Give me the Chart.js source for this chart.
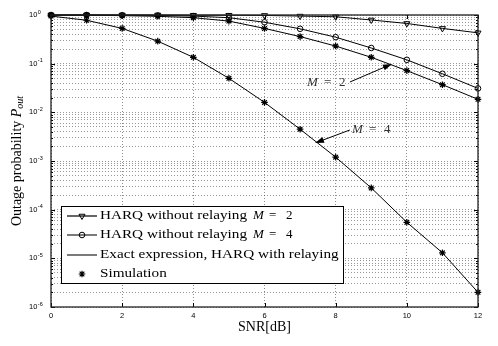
<!DOCTYPE html>
<html>
<head>
<meta charset="utf-8">
<script src="https://cdn.jsdelivr.net/npm/chart.js@4.4.1/dist/chart.umd.min.js"></script>
<style>
  body { margin: 0; background: #fff; }
  #wrap { width: 498px; height: 346px; }
</style>
</head>
<body>
<div id="wrap"><canvas id="outageChart" width="498" height="346"></canvas></div>
<script>
// SNR in dB
const snr = [0, 1, 2, 3, 4, 5, 6, 7, 8, 9, 10, 11, 12];

// HARQ without relaying
const noRelayM2 = [1.0, 1.0, 1.0, 1.0, 0.99, 0.99, 0.98, 0.95, 0.92, 0.79, 0.67, 0.53, 0.43];
const noRelayM4 = [1.0, 1.0, 0.99, 0.98, 0.95, 0.88, 0.71, 0.52, 0.35, 0.21, 0.12, 0.062, 0.031];

// exact expression, HARQ with relaying
const relayM2 = [0.99, 0.99, 0.97, 0.94, 0.88, 0.75, 0.53, 0.36, 0.23, 0.135, 0.072, 0.037, 0.0185];
const relayM4 = [0.95, 0.78, 0.53, 0.29, 0.135, 0.05, 0.016, 0.0045, 0.0012, 0.00028, 5.5e-5, 1.3e-5, 2.0e-6];

// simulation points
const simM2 = [0.99, 0.99, 0.97, 0.94, 0.88, 0.75, 0.53, 0.36, 0.23, 0.135, 0.072, 0.037, 0.0185];
const simM4 = [0.95, 0.78, 0.53, 0.29, 0.135, 0.05, 0.016, 0.0045, 0.0012, 0.00028, 5.5e-5, 1.3e-5, 2.0e-6];

// axis ticks
const xTicks = [0, 2, 4, 6, 8, 10, 12];
const yDecades = [-6, -5, -4, -3, -2, -1, 0];

const legendLabels = [
    ['HARQ without relaying ', 'M', '2'],
    ['HARQ without relaying ', 'M', '4'],
    ['Exact expression, HARQ with relaying'],
    ['Simulation']
];

const pts = arr => snr.map((x, i) => ({ x: x, y: arr[i] }));

const serif = '"Liberation Serif", "DejaVu Serif", serif';
const sans = '"Liberation Sans", Arial, sans-serif';

// minor + major log ticks
const yTickValues = [];
yDecades.forEach(d => {
    if (d === 0) { yTickValues.push(1); return; }
    for (let k = 1; k <= 9; k++) yTickValues.push(+(k * Math.pow(10, d)).toPrecision(3));
});

function stretchText(ctx, str, x, y, sx) {
    ctx.save();
    ctx.translate(x, y);
    ctx.scale(sx, 1);
    ctx.fillText(str, 0, 0);
    ctx.restore();
    return ctx.measureText(str).width * sx;
}

function arrow(ctx, x1, y1, x2, y2) {
    const a = Math.atan2(y2 - y1, x2 - x1);
    ctx.beginPath();
    ctx.moveTo(x1, y1);
    ctx.lineTo(x2 - 5 * Math.cos(a), y2 - 5 * Math.sin(a));
    ctx.stroke();
    ctx.beginPath();
    ctx.moveTo(x2, y2);
    ctx.lineTo(x2 - 9 * Math.cos(a) + 3 * Math.sin(a), y2 - 9 * Math.sin(a) - 3 * Math.cos(a));
    ctx.lineTo(x2 - 9 * Math.cos(a) - 3 * Math.sin(a), y2 - 9 * Math.sin(a) + 3 * Math.cos(a));
    ctx.closePath();
    ctx.fill();
}

const decorations = {
    id: 'decorations',
    afterDraw(chart) {
        const ctx = chart.ctx;
        const area = chart.chartArea;
        const xs = chart.scales.x, ys = chart.scales.y;
        ctx.save();

        // tick marks inside box
        ctx.strokeStyle = '#000';
        ctx.lineWidth = 1;
        ctx.beginPath();
        yTickValues.forEach(v => {
            const py = Math.round(ys.getPixelForValue(v)) + 0.5;
            const len = Number.isInteger(Math.log10(v)) ? 4 : 2;
            ctx.moveTo(area.left, py); ctx.lineTo(area.left + len, py);
            ctx.moveTo(area.right, py); ctx.lineTo(area.right - len, py);
        });
        xTicks.forEach(v => {
            const px = Math.round(xs.getPixelForValue(v)) + 0.5;
            ctx.moveTo(px, area.bottom); ctx.lineTo(px, area.bottom - 4);
            ctx.moveTo(px, area.top); ctx.lineTo(px, area.top + 4);
        });
        ctx.stroke();

        // axes box
        ctx.strokeStyle = '#222';
        ctx.lineWidth = 1.3;
        ctx.strokeRect(area.left, area.top, area.right - area.left, area.bottom - area.top);

        // y tick labels 10^n
        ctx.fillStyle = '#000';
        ctx.textBaseline = 'middle';
        ctx.textAlign = 'left';
        yDecades.forEach(d => {
            const py = ys.getPixelForValue(Math.pow(10, d));
            ctx.font = '7.5px ' + sans;
            ctx.fillText('10', 29, py);
            const w = ctx.measureText('10').width;
            ctx.font = '5.5px ' + sans;
            ctx.fillText(d === 0 ? '0' : '-' + Math.abs(d), 29 + w + 0.5, py - 3);
        });

        // x title
        ctx.font = '14px ' + serif;
        ctx.textAlign = 'center';
        ctx.fillText('SNR[dB]', (area.left + area.right) / 2, 327);

        // y title
        ctx.save();
        ctx.translate(17, (area.top + area.bottom) / 2);
        ctx.rotate(-Math.PI / 2);
        ctx.textAlign = 'left';
        ctx.font = '14px ' + serif;
        const t1 = 'Outage probability ';
        const w1 = ctx.measureText(t1).width;
        ctx.font = 'italic 14px ' + serif;
        const w2 = ctx.measureText('P').width;
        ctx.font = 'italic 10px ' + serif;
        const w3 = ctx.measureText('out').width;
        let x0 = -(w1 + w2 + w3) / 2;
        ctx.font = '14px ' + serif;
        ctx.fillText(t1, x0, 0);
        ctx.font = 'italic 14px ' + serif;
        ctx.fillText('P', x0 + w1, 0);
        ctx.font = 'italic 10px ' + serif;
        ctx.fillText('out', x0 + w1 + w2, 3);
        ctx.restore();

        // annotations M = 2, M = 4
        ctx.fillStyle = '#000';
        ctx.strokeStyle = '#000';
        ctx.lineWidth = 1;
        arrow(ctx, xs.getPixelForValue(8.4), ys.getPixelForValue(0.042),
                   xs.getPixelForValue(9.58), ys.getPixelForValue(0.0985));
        arrow(ctx, xs.getPixelForValue(8.4), ys.getPixelForValue(0.00434),
                   xs.getPixelForValue(7.42), ys.getPixelForValue(0.00234));
        ctx.fillStyle = '#333';
        ctx.textAlign = 'left';
        const mathLabel = (x, y, n) => {
            ctx.font = 'italic 13px ' + serif;
            ctx.fillText('M', x, y);
            ctx.font = '13px ' + serif;
            ctx.fillText('=', x + 17, y);
            ctx.fillText(n, x + 32, y);
        };
        mathLabel(xs.getPixelForValue(8.4) - 43, ys.getPixelForValue(0.040), '2');
        mathLabel(xs.getPixelForValue(8.46), ys.getPixelForValue(0.00434), '4');

        // legend
        const lx = 61, ly = 206, lw = 282, lh = 77;
        ctx.fillStyle = '#fff';
        ctx.fillRect(lx, ly, lw, lh);
        ctx.strokeStyle = '#000';
        ctx.lineWidth = 1;
        ctx.strokeRect(lx + 0.5, ly + 0.5, lw, lh);
        const rows = [216, 235, 255, 274];
        const markers = [
            { pointStyle: 'triangle', rotation: 180, radius: 3.5, borderWidth: 1 },
            { pointStyle: 'circle', rotation: 0, radius: 2.8, borderWidth: 1 },
            null,
            { pointStyle: 'star', rotation: 0, radius: 3.3, borderWidth: 1.2 }
        ];
        rows.forEach((ry, i) => {
            ctx.strokeStyle = '#000';
            ctx.fillStyle = 'rgba(0,0,0,0)';
            if (i < 3) {
                ctx.lineWidth = i === 0 ? 1.8 : 1.2;
                ctx.strokeStyle = i === 0 ? '#555' : '#222';
                ctx.beginPath();
                ctx.moveTo(67, ry); ctx.lineTo(97, ry);
                ctx.stroke();
            }
            if (markers[i]) {
                ctx.strokeStyle = '#000';
                ctx.lineWidth = markers[i].borderWidth;
                Chart.helpers.drawPoint(ctx, markers[i], 82, ry);
            }
            ctx.fillStyle = '#000';
            ctx.textBaseline = 'middle';
            ctx.font = '13px ' + serif;
            const lab = legendLabels[i];
            stretchText(ctx, lab[0], 100, ry, 1.17);
            if (lab.length > 1) {
                ctx.font = 'italic 13px ' + serif;
                ctx.fillText(lab[1], 253, ry);
                ctx.font = '13px ' + serif;
                ctx.fillText('=', 269, ry);
                ctx.fillText(lab[2], 286, ry);
            }
        });
        ctx.restore();
    }
};

const hollow = 'rgba(255,255,255,0)';

new Chart(document.getElementById('outageChart'), {
    type: 'line',
    data: {
        datasets: [
            {
                data: pts(noRelayM2), borderColor: '#000', borderWidth: 1,
                pointStyle: 'triangle', pointRotation: 180, pointRadius: 3.5,
                pointBorderWidth: 1, pointBackgroundColor: hollow, pointBorderColor: '#000'
            },
            {
                data: pts(noRelayM4), borderColor: '#000', borderWidth: 1,
                pointStyle: 'circle', pointRadius: 2.8,
                pointBorderWidth: 1, pointBackgroundColor: hollow, pointBorderColor: '#000'
            },
            { data: pts(relayM2), borderColor: '#000', borderWidth: 1, pointRadius: 0 },
            { data: pts(relayM4), borderColor: '#000', borderWidth: 1, pointRadius: 0 },
            {
                data: pts(simM2), showLine: false, pointStyle: 'star', pointRadius: 3.3,
                pointBorderWidth: 1.2, pointBorderColor: '#000'
            },
            {
                data: pts(simM4), showLine: false, pointStyle: 'star', pointRadius: 3.3,
                pointBorderWidth: 1.2, pointBorderColor: '#000'
            }
        ]
    },
    options: {
        responsive: false,
        animation: false,
        clip: 6,
        layout: { padding: { left: 0, right: 20, top: 15, bottom: 0 } },
        elements: { line: { tension: 0 } },
        scales: {
            x: {
                type: 'linear', min: 0, max: 12,
                afterBuildTicks: s => { s.ticks = xTicks.map(v => ({ value: v })); },
                afterFit: s => { s.height = 39; },
                ticks: { color: '#000', padding: 4, font: { size: 7.5, family: sans } },
                grid: { color: 'rgba(0,0,0,0.45)', lineWidth: 1, drawTicks: false },
                border: { display: false, dash: [1, 2] }
            },
            y: {
                type: 'logarithmic', min: 1e-6, max: 1,
                afterBuildTicks: s => { s.ticks = yTickValues.map(v => ({ value: v })); },
                afterFit: s => { s.width = 51; },
                ticks: { callback: () => '', autoSkip: false },
                grid: { color: 'rgba(0,0,0,0.4)', lineWidth: 1, drawTicks: false },
                border: { display: false, dash: [1, 2] }
            }
        },
        plugins: {
            legend: { display: false },
            tooltip: { enabled: false }
        }
    },
    plugins: [decorations]
});
</script>
</body>
</html>
